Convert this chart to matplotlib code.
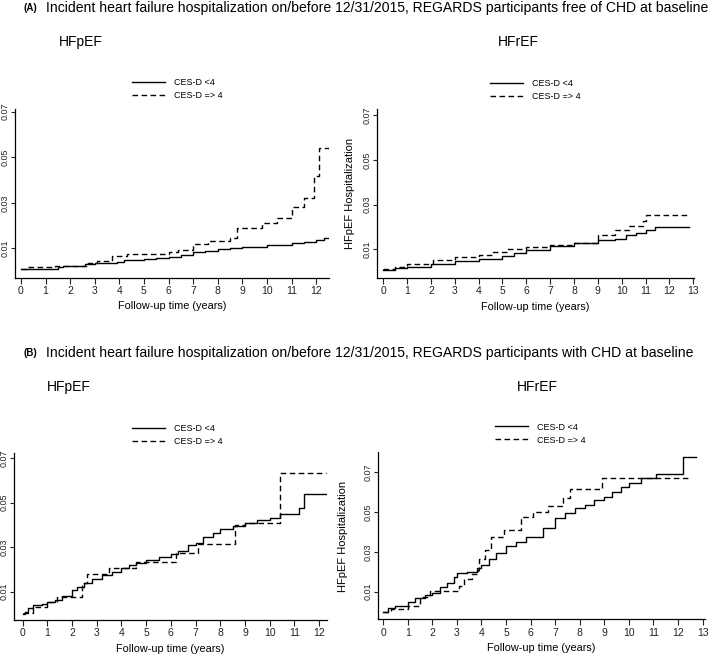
import matplotlib
matplotlib.use("Agg")
import matplotlib.pyplot as plt
from matplotlib.lines import Line2D

plt.rcParams['font.family'] = ['Liberation Sans', 'DejaVu Sans']

W, H = 709, 656

# ---- data (cumulative incidence) ----
# (A) free of CHD, HFpEF
a_pef_low_t = [0, 1.5, 1.7, 2.6, 3.0, 3.9, 4.2, 5.0, 5.5, 6.0, 6.5, 7.0, 7.5, 8.0, 8.5, 9.0, 10.0, 11.0, 11.5, 12.0, 12.3, 12.54]
a_pef_low_v = [0.0008, 0.0019, 0.0022, 0.0030, 0.0037, 0.0041, 0.0049, 0.0053, 0.0058, 0.0063, 0.0071, 0.0082, 0.0088, 0.0096, 0.0100, 0.0104, 0.0113, 0.0122, 0.0128, 0.0137, 0.0144, 0.0144]
a_pef_high_t = [0, 0.3, 1.4, 2.7, 3.1, 3.7, 4.3, 4.8, 6.0, 6.4, 7.0, 7.6, 8.5, 8.8, 9.8, 10.4, 11.0, 11.5, 11.9, 12.1, 12.54]
a_pef_high_v = [0.0011, 0.0016, 0.0022, 0.0034, 0.0044, 0.0066, 0.0074, 0.0077, 0.0085, 0.0093, 0.0119, 0.0134, 0.0144, 0.0188, 0.0210, 0.0232, 0.0283, 0.0323, 0.0418, 0.0540, 0.0540]

# (A) free of CHD, HFrEF
a_ref_low_t = [0, 0.5, 1.0, 2.0, 3.0, 4.0, 5.0, 5.5, 6.0, 7.0, 8.0, 9.0, 9.7, 10.2, 10.6, 11.0, 11.4, 12.83]
a_ref_low_v = [0.0007, 0.0017, 0.0022, 0.0032, 0.0046, 0.0057, 0.0071, 0.0083, 0.0097, 0.0114, 0.0126, 0.0141, 0.0146, 0.0162, 0.0175, 0.0187, 0.0201, 0.0201]
a_ref_high_t = [0, 0.5, 1.0, 2.1, 3.0, 4.0, 4.6, 5.2, 6.0, 7.0, 8.0, 9.0, 9.7, 10.3, 10.9, 11.0, 12.83]
a_ref_high_v = [0.0010, 0.0022, 0.0032, 0.0054, 0.0065, 0.0074, 0.0090, 0.0101, 0.0112, 0.0120, 0.0129, 0.0162, 0.0184, 0.0206, 0.0228, 0.0254, 0.0254]

# (B) with CHD, HFpEF
b_pef_low_t = [0, 0.1, 0.2, 0.4, 0.8, 1.0, 1.3, 1.6, 2.0, 2.2, 2.5, 2.8, 3.2, 3.6, 4.0, 4.3, 4.6, 5.0, 5.5, 6.0, 6.3, 6.7, 7.0, 7.3, 7.7, 8.0, 8.5, 9.0, 9.5, 10.0, 10.4, 11.2, 11.4, 12.27]
b_pef_low_v = [0.0002, 0.0010, 0.0025, 0.0040, 0.0044, 0.0052, 0.0065, 0.0080, 0.0108, 0.0123, 0.0138, 0.0156, 0.0175, 0.0190, 0.0205, 0.0220, 0.0231, 0.0243, 0.0255, 0.0268, 0.0285, 0.0311, 0.0318, 0.0348, 0.0366, 0.0381, 0.0396, 0.0408, 0.0423, 0.0431, 0.0450, 0.0476, 0.0541, 0.0541]
b_pef_high_t = [0, 0.4, 1.0, 1.4, 2.4, 2.6, 3.5, 4.6, 6.2, 7.1, 8.6, 9.0, 10.4, 12.27]
b_pef_high_v = [0.0005, 0.0032, 0.0055, 0.0077, 0.0138, 0.0180, 0.0205, 0.0235, 0.0273, 0.0314, 0.0401, 0.0408, 0.0634, 0.0634]

# (B) with CHD, HFrEF
b_ref_low_t = [0, 0.2, 0.5, 1.0, 1.3, 1.7, 2.0, 2.3, 2.6, 2.9, 3.0, 3.4, 3.8, 4.0, 4.3, 4.6, 5.0, 5.4, 5.8, 6.2, 6.5, 7.0, 7.4, 7.8, 8.2, 8.6, 9.0, 9.3, 9.7, 10.0, 10.5, 11.1, 12.2, 12.75]
b_ref_low_v = [0.0000, 0.0016, 0.0028, 0.0050, 0.0066, 0.0083, 0.0095, 0.0125, 0.0145, 0.0175, 0.0192, 0.0201, 0.0217, 0.0234, 0.0263, 0.0296, 0.0330, 0.0351, 0.0373, 0.0377, 0.0419, 0.0469, 0.0497, 0.0522, 0.0536, 0.0561, 0.0578, 0.0603, 0.0628, 0.0645, 0.0670, 0.0690, 0.0776, 0.0776]
b_ref_high_t = [0, 0.3, 1.0, 1.5, 1.9, 3.1, 3.3, 3.6, 3.85, 3.9, 4.15, 4.4, 4.9, 5.6, 6.1, 6.7, 7.3, 7.6, 8.9, 12.55]
b_ref_high_v = [0.0000, 0.0011, 0.0028, 0.0075, 0.0105, 0.0129, 0.0162, 0.0189, 0.0209, 0.0263, 0.0310, 0.0373, 0.0410, 0.0474, 0.0502, 0.0531, 0.0569, 0.0616, 0.0670, 0.0670]

yticks = [0.01, 0.03, 0.05, 0.07]
legend_labels = ['CES-D <4', 'CES-D => 4']


def rect(l, r, t, b):
    return [l / W, 1 - b / H, (r - l) / W, (b - t) / H]


fig = plt.figure(figsize=(W / 100, H / 100), dpi=100)

panels = [
    # rect px, xlim, ylim, xticks max, data, legend x/y px
    (rect(15, 329, 109, 277.5), (-0.24, 12.52), (-0.0028, 0.0712), 12,
     (a_pef_low_t, a_pef_low_v, a_pef_high_t, a_pef_high_v), (132, 78)),
    (rect(377, 694, 109, 277.7), (-0.26, 13.03), (-0.0027, 0.0727), 13,
     (a_ref_low_t, a_ref_low_v, a_ref_high_t, a_ref_high_v), (490, 79)),
    (rect(14.3, 326.7, 453.3, 620), (-0.34, 12.31), (-0.0027, 0.0722), 12,
     (b_pef_low_t, b_pef_low_v, b_pef_high_t, b_pef_high_v), (132, 424)),
    (rect(378.3, 705, 451.7, 619.3), (-0.2, 13.1), (-0.0039, 0.0804), 13,
     (b_ref_low_t, b_ref_low_v, b_ref_high_t, b_ref_high_v), (495, 422.5)),
]

for r, xl, yl, xmax, (t1, v1, t2, v2), (lx, ly) in panels:
    ax = fig.add_axes(r)
    ax.step(t1, v1, where='post', color='black', lw=1.0)
    ax.step(t2, v2, where='post', color='black', lw=1.0, linestyle=(0, (4, 2.5)))
    ax.set_xlim(*xl)
    ax.set_ylim(*yl)
    ax.set_xticks(range(0, xmax + 1))
    ax.set_yticks(yticks)
    ax.set_yticklabels([f'{v:.2f}' for v in yticks], rotation=90, va='center')
    ax.tick_params(axis='x', labelsize=7.5, length=4, width=0.8, colors='#222222', pad=2)
    ax.tick_params(axis='y', labelsize=6.5, length=3, width=0.8, colors='#222222', pad=1)
    for s in ('top', 'right'):
        ax.spines[s].set_visible(False)
    for s in ('left', 'bottom'):
        ax.spines[s].set_linewidth(0.9)
    ax.set_xlabel('Follow-up time (years)', fontsize=7.8, labelpad=4)
    handles = [Line2D([], [], color='black', lw=1.0),
               Line2D([], [], color='black', lw=1.0, linestyle=(0, (4, 2.5)))]
    fig.legend(handles, legend_labels, loc='upper left',
               bbox_to_anchor=(lx / W, 1 - ly / H), frameon=False,
               handlelength=3.6, handletextpad=1.0,
               labelspacing=0.45, borderpad=0, borderaxespad=0,
               prop={'size': 6.5})

# y-axis label placed between the two columns
fig.text(350 / W, 1 - 193 / H, 'HFpEF Hospitalization', rotation=90,
         ha='center', va='center', fontsize=8)
fig.text(343 / W, 1 - 536 / H, 'HFpEF Hospitalization', rotation=90,
         ha='center', va='center', fontsize=8)

# section titles
titles = [
    ('(A)', 'Incident heart failure hospitalization on/before 12/31/2015, REGARDS participants free of CHD at baseline', 8),
    ('(B)', 'Incident heart failure hospitalization on/before 12/31/2015, REGARDS participants with CHD at baseline', 353),
]
for tag, txt, y in titles:
    fig.text(23 / W, 1 - y / H, tag, ha='left', va='center', fontsize=7,
             fontweight='bold')
    fig.text(46 / W, 1 - y / H, txt, ha='left', va='center', fontsize=10.1)

fig.text(81 / W, 1 - 42 / H, 'HFpEF', ha='center', va='center', fontsize=10)
fig.text(518 / W, 1 - 42 / H, 'HFrEF', ha='center', va='center', fontsize=10)
fig.text(69 / W, 1 - 387 / H, 'HFpEF', ha='center', va='center', fontsize=10)
fig.text(537 / W, 1 - 387 / H, 'HFrEF', ha='center', va='center', fontsize=10)

fig.savefig('out.png', dpi=100)
